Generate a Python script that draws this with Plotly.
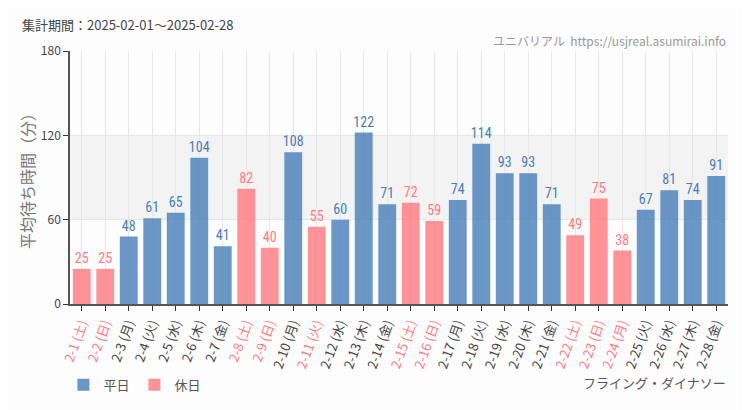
import plotly.graph_objects as go

dates = ["2-1","2-2","2-3","2-4","2-5","2-6","2-7","2-8","2-9","2-10","2-11","2-12","2-13","2-14",
         "2-15","2-16","2-17","2-18","2-19","2-20","2-21","2-22","2-23","2-24","2-25","2-26","2-27","2-28"]
weekdays = ["土","日","月","火","水","木","金","土","日","月","火","水","木","金",
            "土","日","月","火","水","木","金","土","日","月","火","水","木","金"]
values = [25,25,48,61,65,104,41,82,40,108,55,60,122,71,72,59,74,114,93,93,71,49,75,38,67,81,74,91]
holidays = ["2-1","2-2","2-8","2-9","2-11","2-15","2-16","2-22","2-23","2-24"]

BLUE = "rgba(70,125,185,0.80)"
PINK = "rgba(255,120,125,0.80)"
BLUE_T = "#4a7db3"
PINK_T = "#ff7a80"
NUMFONT = "Liberation Sans Narrow, Roboto Condensed, Noto Sans, sans-serif"

labels = [f"{d} ({w})" for d, w in zip(dates, weekdays)]
ticktext = [f'<span style="color:{PINK_T if d in holidays else "#444"}">{l}</span>' for d, l in zip(dates, labels)]

wd_x = [d for d in dates if d not in holidays]
wd_y = [v for d, v in zip(dates, values) if d not in holidays]
hd_x = [d for d in dates if d in holidays]
hd_y = [v for d, v in zip(dates, values) if d in holidays]

fig = go.Figure()
fig.add_trace(go.Bar(x=wd_x, y=wd_y, name="平日", marker=dict(color=BLUE, line=dict(width=0)),
                     text=wd_y, textposition="outside", cliponaxis=False, constraintext="none",
                     textfont=dict(color=BLUE_T, size=14, family=NUMFONT),
                     width=0.76))
fig.add_trace(go.Bar(x=hd_x, y=hd_y, name="休日", marker=dict(color=PINK, line=dict(width=0)),
                     text=hd_y, textposition="outside", cliponaxis=False, constraintext="none",
                     textfont=dict(color=PINK_T, size=14, family=NUMFONT),
                     width=0.76))

fig.add_shape(type="rect", xref="paper", x0=0, x1=1, yref="y", y0=60, y1=120,
              fillcolor="#f3f3f3", line=dict(width=0), layer="below")

fig.update_layout(
    width=742, height=402,
    margin=dict(l=62, r=22, t=43, b=106, autoexpand=False),
    paper_bgcolor="#fcfdfc", plot_bgcolor="#fcfdfc",
    barmode="overlay",
    font=dict(family="Noto Sans CJK JP, sans-serif", color="#444"),
    showlegend=True,
    legend=dict(orientation="h", x=-0.01, y=-0.26, xanchor="left", yanchor="top",
                font=dict(size=13, color="#555"), traceorder="normal"),
    xaxis=dict(type="category", categoryorder="array", categoryarray=dates,
               tickvals=dates, ticktext=ticktext, tickangle=-70, automargin=False,
               tickfont=dict(size=13), showgrid=True, gridcolor="#e6e6e6",
               showline=True, linecolor="#555", linewidth=1.5,
               ticks="outside", ticklen=5, tickcolor="#333"),
    yaxis=dict(range=[0, 180], tickvals=[0, 60, 120, 180], showgrid=True, gridcolor="#e6e6e6",
               showline=True, linecolor="#555", linewidth=1.5, ticks="outside", ticklen=5,
               automargin=False,
               tickcolor="#333", tickfont=dict(size=12, color="#444"), zeroline=False),
)

fig.add_annotation(text="平均待ち時間（分）", xref="paper", yref="paper", x=-0.066, y=0.5,
                   textangle=-90, xanchor="center", yanchor="middle", showarrow=False,
                   font=dict(size=16, color="#777"))
fig.add_annotation(text="集計期間：2025-02-01～2025-02-28", xref="paper", yref="paper",
                   x=-0.076, y=1.105, xanchor="left", yanchor="middle", showarrow=False,
                   font=dict(size=13, color="#444"))
fig.add_annotation(text="ユニバリアル  https://usjreal.asumirai.info", xref="paper", yref="paper",
                   x=1.0, y=1.04, xanchor="right", yanchor="middle", showarrow=False,
                   font=dict(size=12, color="#999", family="Liberation Sans Narrow, Noto Sans CJK JP, sans-serif"))
fig.add_annotation(text="フライング・ダイナソー", xref="paper", yref="paper",
                   x=1.0, y=-0.31, xanchor="right", yanchor="middle", showarrow=False,
                   font=dict(size=13, color="#555", family="Liberation Sans Narrow, Noto Sans CJK JP, sans-serif"))

fig.write_html("out.html")
